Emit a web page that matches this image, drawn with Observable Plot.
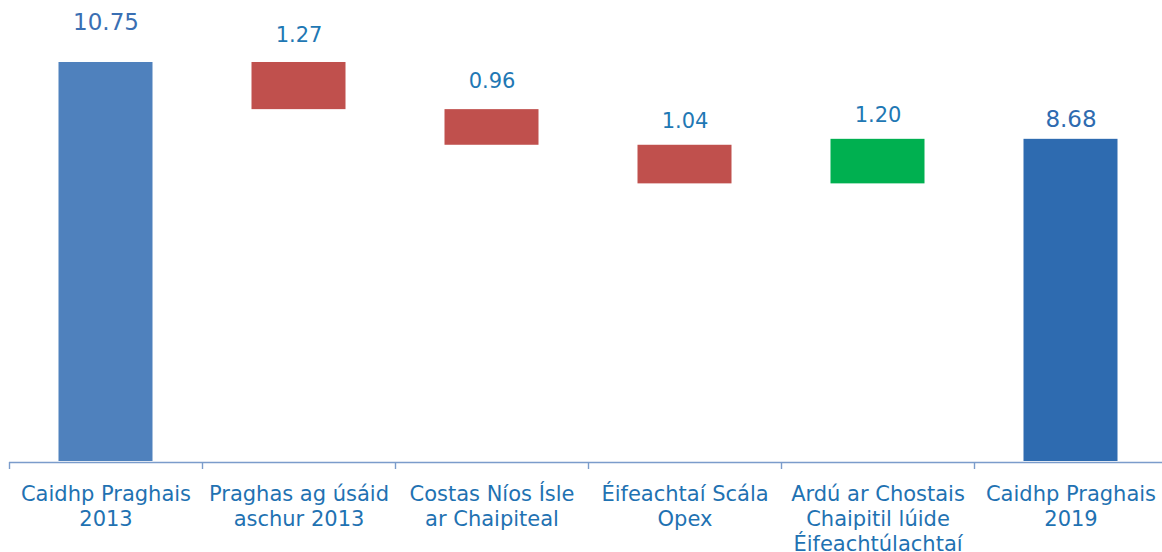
<!DOCTYPE html>
<html>
<head>
<meta charset="utf-8">
<script src="https://cdn.jsdelivr.net/npm/d3@7"></script>
<script src="https://cdn.jsdelivr.net/npm/@observablehq/plot@0.6"></script>
<style>
  html, body { margin: 0; padding: 0; background: #fff; }
  #chart { width: 1162px; height: 552px; overflow: hidden; }
  svg { font-family: "DejaVu Sans", Verdana, sans-serif; }
</style>
</head>
<body>
<div id="chart"></div>
<script>
// ---- data ----
const categories = [
  "Caidhp Praghais\n2013",
  "Praghas ag úsáid\naschur 2013",
  "Costas Níos Ísle\nar Chaipiteal",
  "Éifeachtaí Scála\nOpex",
  "Ardú ar Chostais\nChaipitil lúide\nÉifeachtúlachtaí",
  "Caidhp Praghais\n2019"
];
const changes = [10.75, -1.27, -0.96, -1.04, 1.20, 8.68];
const kinds = ["start", "decrease", "decrease", "decrease", "increase", "end"];
const valueLabels = ["10.75", "1.27", "0.96", "1.04", "1.20", "8.68"];

// ---- build waterfall table ----
let running = 0;
const rows = categories.map((c, i) => {
  let y1, y2;
  if (kinds[i] === "start" || kinds[i] === "end") {
    y1 = 0; y2 = changes[i]; running = changes[i];
  } else {
    y1 = running; y2 = running + changes[i]; running = y2;
  }
  return {category: c, y1, y2, top: Math.max(y1, y2), kind: kinds[i], label: valueLabels[i]};
});

const colors = {start: "#4f81bd", decrease: "#c0504d", increase: "#00b050", end: "#2e6bb0"};
const labelColors = {start: "#3a6fb3", decrease: "#1f78b4", increase: "#1f78b4", end: "#2e6bb0"};
const labelSizes = {start: 23, decrease: 21, increase: 21, end: 23};
const labelDy = [-40, -27.5, -28, -24.5, -24.5, -20];

const chart = Plot.plot({
  width: 1162,
  height: 552,
  marginLeft: 9,
  marginRight: 0,
  marginTop: 0,
  marginBottom: 90,
  x: {domain: categories, range: [9, 1167], padding: 0, axis: null, label: null},
  y: {domain: [0, 12], range: [461, 15.6], axis: null, label: null},
  marks: [
    Plot.rectY(rows, {
      x: "category", y1: "y1", y2: "y2",
      fill: d => colors[d.kind],
      insetLeft: 49.5, insetRight: 49.5
    }),
    Plot.ruleY([0], {stroke: "#7b9ccb", strokeWidth: 1.4, dy: 1}),
    Plot.axisX({
      domain: categories, anchor: "bottom", tickFormat: () => "", label: null,
      tickSize: 7, dx: -96.5, stroke: "#7b9ccb", strokeWidth: 1.4, tickPadding: 0
    }),
    Plot.text(categories, {
      x: d => d, frameAnchor: "bottom", lineAnchor: "top", dy: 21,
      fontSize: 21, lineHeight: 1.19, fill: "#1f72b2", text: d => d
    }),
    ...rows.map((r, i) => Plot.text([r], {
      x: "category", y: "top", text: "label",
      dy: labelDy[i], fontSize: labelSizes[r.kind], fill: labelColors[r.kind]
    }))
  ]
});
document.getElementById("chart").appendChild(chart);
</script>
</body>
</html>
